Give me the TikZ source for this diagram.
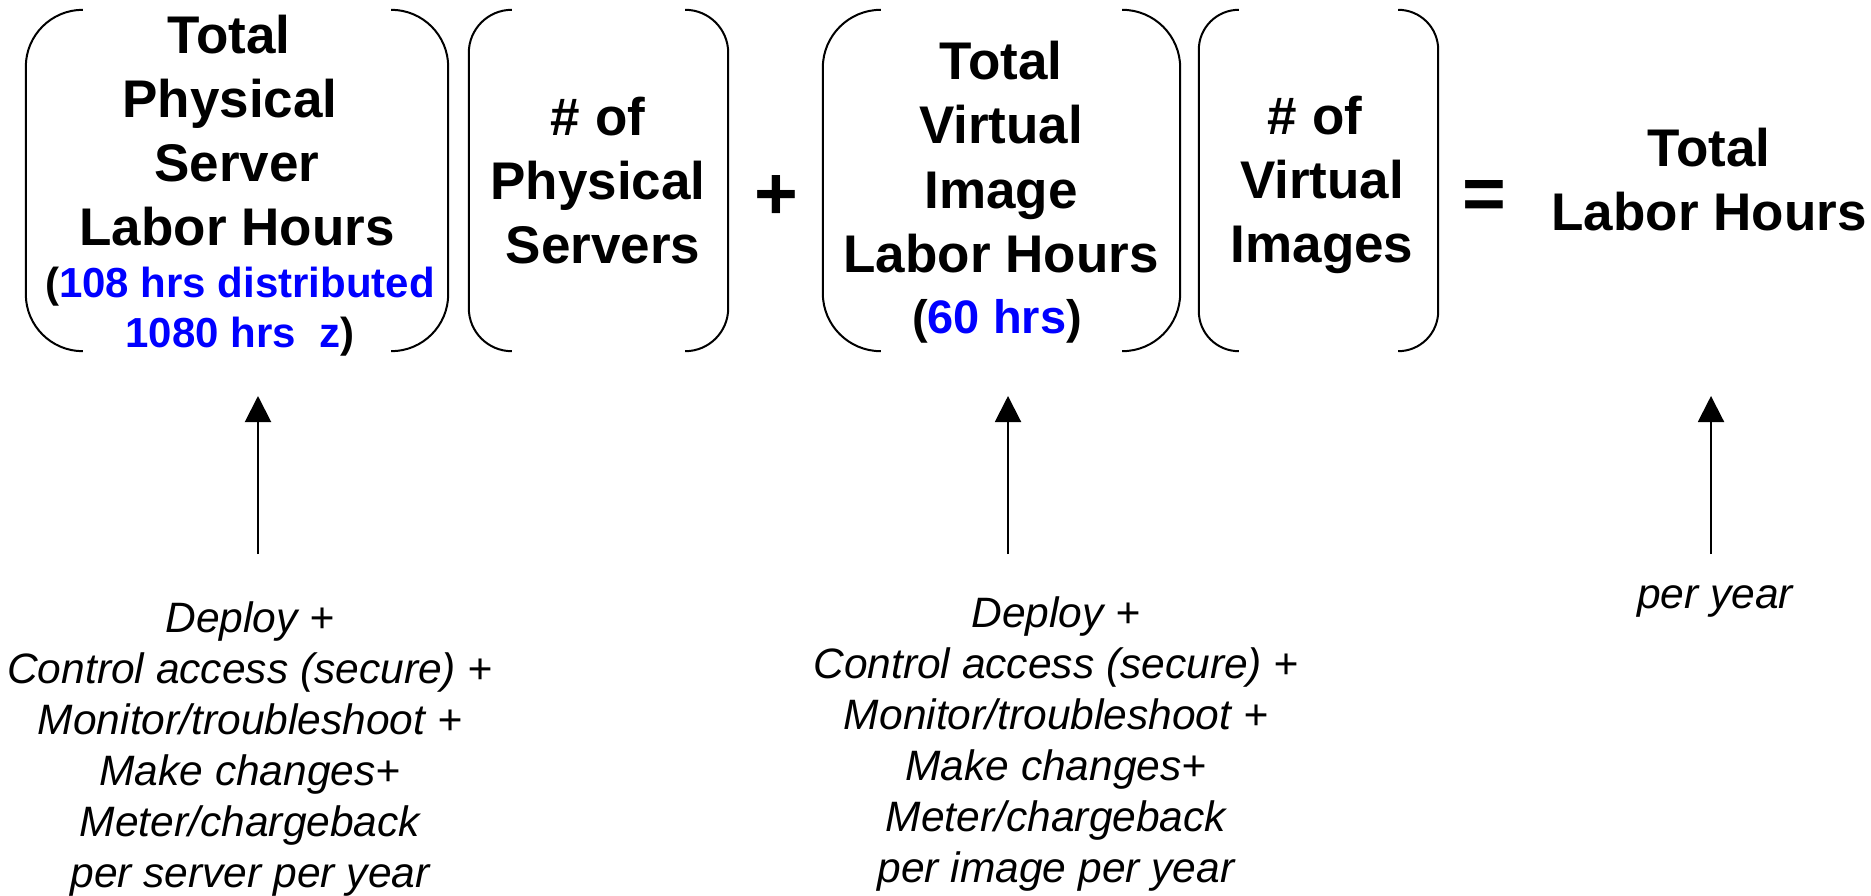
\documentclass[tikz,border=0pt]{standalone}
\usepackage{fontspec}
\setmainfont{Liberation Sans}
\usetikzlibrary{arrows.meta}

% draws a "( )" bracket pair on the sides of a named rectangular node
\newcommand\bracketpair[2]{%
  \draw[bracketline, rounded corners=#2]
    ([xshift=#2]#1.north west) -- (#1.north west) -- (#1.south west) -- ([xshift=#2]#1.south west);
  \draw[bracketline, rounded corners=#2]
    ([xshift=-#2]#1.north east) -- (#1.north east) -- (#1.south east) -- ([xshift=-#2]#1.south east);
}

\begin{document}
\begin{tikzpicture}[x=1pt, y=-1pt,
  bracketline/.style={line width=2pt, black},
  boxarea/.style={rectangle, inner sep=0pt, draw=none, minimum height=341pt},
  % multi-line text nodes are placed by the baseline of their last line
  headtext/.style={anchor=base, align=center, inner sep=0pt,
    font=\bfseries\fontsize{53}{64}\selectfont},
  notetext/.style={anchor=base, align=center, inner sep=0pt,
    font=\bfseries\fontsize{42}{50}\selectfont},
  optext/.style={anchor=base, inner sep=0pt,
    font=\bfseries\fontsize{75}{80}\selectfont},
  listtext/.style={anchor=base, align=center, inner sep=0pt,
    font=\itshape\fontsize{42.5}{51}\selectfont},
  uparrow/.style={line width=2pt, -{Triangle[length=26pt, width=26pt]}},
]
\useasboundingbox (0,0) rectangle (1871,896);

% bracket areas
\node[boxarea, minimum width=422pt] (b1) at (237,180.5) {};
\node[boxarea, minimum width=259pt] (b2) at (598.5,180.5) {};
\node[boxarea, minimum width=357pt] (b3) at (1001.5,180.5) {};
\node[boxarea, minimum width=239pt] (b4) at (1318.5,180.5) {};
\bracketpair{b1}{57}
\bracketpair{b2}{43}
\bracketpair{b3}{58}
\bracketpair{b4}{40}

% contents of the brackets
\node[headtext] (h1) at (237,245) {Total\kern16pt\\Physical\kern14pt\\Server\\Labor Hours};
\node[notetext] (n1) at (240,347) {(\textcolor{blue}{108 hrs distributed}\\\textcolor{blue}{1080 hrs\ \ z})};
\node[headtext] (h2) at (598,263) {\# of\\Physical\\\kern10pt Servers};
\node[headtext] (h3) at (1001,272) {Total\\Virtual\\Image\\Labor Hours};
\node[notetext, font=\bfseries\fontsize{47}{56}\selectfont] (n3) at (997,333) {(\textcolor{blue}{60 hrs})};
\node[headtext] (h4) at (1322,262) {\# of\kern14pt\\Virtual\\Images};

% operators and result
\node[optext] (plus) at (776,219.5) {+};
\node[optext] (eq) at (1484,219.5) {=};
\node[headtext] (res) at (1709,230) {Total\\Labor Hours};

% explanatory notes
\node[listtext] (l1) at (250,887) {Deploy +\\Control access (secure) +\\Monitor/troubleshoot +\\Make changes+\\Meter/chargeback\\per server per year};
\node[listtext] (l3) at (1056,882) {Deploy +\\Control access (secure) +\\Monitor/troubleshoot +\\Make changes+\\Meter/chargeback\\per image per year};
\node[listtext] (l5) at (1715,608) {per year};

% arrows from the notes up to the terms
\coordinate (s1) at (258,554);  \coordinate (t1) at (258,396);
\coordinate (s3) at (1008,554); \coordinate (t3) at (1008,396);
\coordinate (s5) at (1711,554); \coordinate (t5) at (1711,396);
\draw[uparrow] (s1) -- (t1);
\draw[uparrow] (s3) -- (t3);
\draw[uparrow] (s5) -- (t5);
\end{tikzpicture}
\end{document}
